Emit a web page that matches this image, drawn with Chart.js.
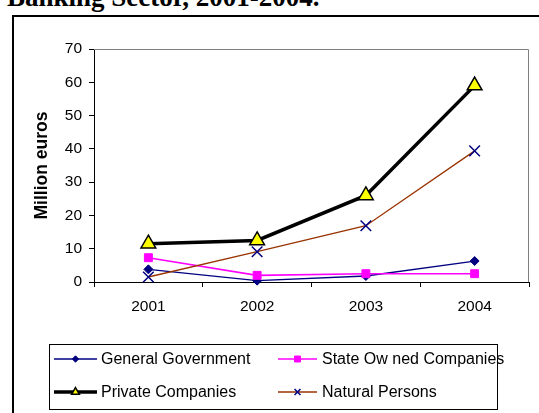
<!DOCTYPE html>
<html>
<head>
<meta charset="utf-8">
<script src="https://cdn.jsdelivr.net/npm/chart.js@4.4.1/dist/chart.umd.min.js"></script>
<style>
    html, body { margin: 0; padding: 0; background: #fff; width: 539px; height: 413px; overflow: hidden; }
    #title { position: absolute; left: 7px; top: -16px; font: bold 27px "Liberation Serif", "Times New Roman", serif; line-height: 27px; white-space: nowrap; color: #000; }
    #frame { position: absolute; left: 12px; top: 15px; width: 600px; height: 500px; border: 2px solid #000; }
    #wrap { position: absolute; left: 0; top: 0; width: 539px; height: 413px; }
</style>
</head>
<body>
<div id="title">Banking Sector, 2001-2004.</div>
<div id="frame"></div>
<div id="wrap"><canvas id="chart" width="539" height="413"></canvas></div>
<script>
// Data (million euros)
const years = ['2001', '2002', '2003', '2004'];
const generalGovernment = [3.8, 0.4, 1.8, 6.3];
const stateOwned = [7.3, 2.0, 2.5, 2.5];
const privateCompanies = [11.5, 12.5, 26, 59];
const naturalPersons = [1.5, 9.1, 16.9, 39.4];
const seriesNames = ['General Government', 'State Ow ned Companies', 'Private Companies', 'Natural Persons'];

const tickFont = { family: '"Liberation Sans", Arial, sans-serif', size: 15.5 };

// Grey border on top/right of the plot area (Excel style)
const plotBorder = {
    id: 'plotBorder',
    beforeDatasetsDraw(chart) {
        const { ctx, chartArea: a } = chart;
        ctx.save();
        ctx.strokeStyle = '#808080';
        ctx.lineWidth = 1;
        ctx.beginPath();
        ctx.moveTo(a.left, a.top + 0.5);
        ctx.lineTo(a.right - 0.5, a.top + 0.5);
        ctx.lineTo(a.right - 0.5, a.bottom);
        ctx.stroke();
        ctx.restore();
    }
};

// Boxed two-column legend below the plot
const legendSizes = [3.2, 4.2, 4.5, 4.2];
const boxLegend = {
    id: 'boxLegend',
    afterDraw(chart) {
        const ctx = chart.ctx;
        ctx.save();
        ctx.strokeStyle = '#000';
        ctx.lineWidth = 1;
        ctx.strokeRect(49.5, 344.5, 448, 65);
        const slots = [[54, 97, 101, 359], [278, 317, 322, 359], [54, 97, 101, 392], [278, 317, 322, 392]];
        chart.data.datasets.forEach((ds, i) => {
            const [x0, x1, tx, y] = slots[i];
            ctx.strokeStyle = ds.borderColor;
            ctx.lineWidth = ds.borderWidth;
            ctx.beginPath();
            ctx.moveTo(x0, y);
            ctx.lineTo(x1, y);
            ctx.stroke();
            ctx.fillStyle = ds.pointBackgroundColor;
            ctx.strokeStyle = ds.pointBorderColor;
            ctx.lineWidth = ds.pointBorderWidth;
            Chart.helpers.drawPoint(ctx, {
                pointStyle: ds.pointStyle, radius: legendSizes[i], rotation: 0, borderWidth: ds.pointBorderWidth
            }, (x0 + x1) / 2, y);
            ctx.fillStyle = '#000';
            ctx.font = '16px "Liberation Sans", Arial, sans-serif';
            ctx.textBaseline = 'middle';
            ctx.textAlign = 'left';
            ctx.fillText(ds.label, tx, y + 1);
        });
        ctx.restore();
    }
};

new Chart(document.getElementById('chart'), {
    type: 'line',
    data: {
        labels: years,
        datasets: [
            {
                label: seriesNames[0], data: generalGovernment, order: 4,
                borderColor: '#000080', borderWidth: 1.3,
                pointStyle: 'rectRot', pointRadius: 4.5, pointBackgroundColor: '#000080',
                pointBorderColor: '#000080', pointBorderWidth: 1, clip: false
            },
            {
                label: seriesNames[1], data: stateOwned, order: 3,
                borderColor: '#FF00FF', borderWidth: 1.6,
                pointStyle: 'rect', pointRadius: 5.6, pointBackgroundColor: '#FF00FF',
                pointBorderColor: '#FF00FF', pointBorderWidth: 1, clip: false
            },
            {
                label: seriesNames[2], data: privateCompanies, order: 2,
                borderColor: '#000000', borderWidth: 3.5,
                pointStyle: 'triangle', pointRadius: 8.5, pointBackgroundColor: '#FFFF00',
                pointBorderColor: '#000000', pointBorderWidth: 1.5, clip: false
            },
            {
                label: seriesNames[3], data: naturalPersons, order: 1,
                borderColor: '#993300', borderWidth: 1.3,
                pointStyle: 'crossRot', pointRadius: 7.5, pointBackgroundColor: '#000080',
                pointBorderColor: '#000080', pointBorderWidth: 1.5, clip: false
            }
        ]
    },
    options: {
        responsive: false,
        animation: false,
        layout: { padding: { top: 49, right: 2, left: 0, bottom: 0 } },
        plugins: {
            legend: { display: false },
            tooltip: { enabled: false }
        },
        scales: {
            x: {
                offset: true,
                grid: { offset: true, drawOnChartArea: false, drawTicks: true, tickLength: 5, color: '#000' },
                border: { color: '#000', width: 1 },
                ticks: { font: tickFont, color: '#000', padding: 10, maxRotation: 0 },
                afterFit(scale) { scale.height = 131; }
            },
            y: {
                min: 0,
                max: 70,
                grid: { drawOnChartArea: false, drawTicks: true, tickLength: 5, color: '#000' },
                border: { color: '#000', width: 1 },
                ticks: { stepSize: 10, font: tickFont, color: '#000', padding: 7 },
                title: {
                    display: true, text: 'Million euros', color: '#000',
                    font: { family: '"Liberation Sans", Arial, sans-serif', size: 17.5, weight: 'bold' },
                    padding: { top: 32, bottom: 0 }
                },
                afterFit(scale) { scale.width = 94; }
            }
        }
    },
    plugins: [plotBorder, boxLegend]
});
</script>
</body>
</html>
